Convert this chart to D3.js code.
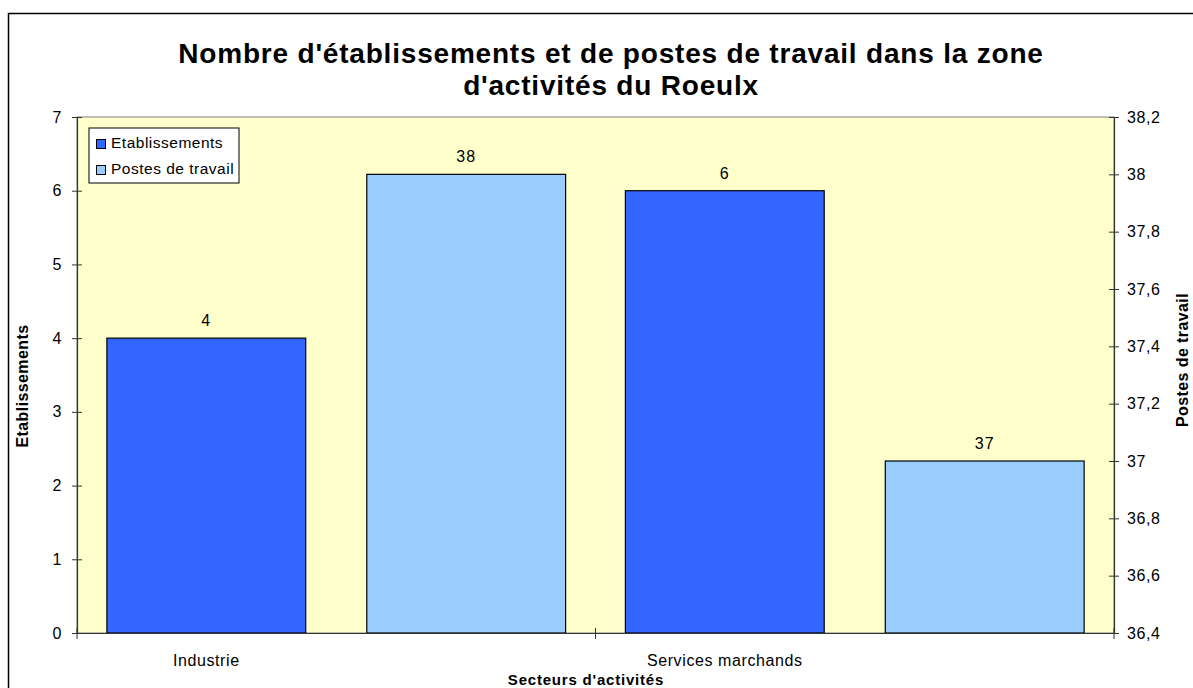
<!DOCTYPE html>
<html>
<head>
<meta charset="utf-8">
<script src="https://cdn.jsdelivr.net/npm/d3@7"></script>
<style>
  body { margin: 0; background: #fff; }
  text { font-family: "Liberation Sans", Arial, sans-serif; fill: #000; }
</style>
</head>
<body>
<div id="chart"></div>
<script>
// data
const categories = ['Industrie', 'Services marchands'];
const etablissements = [4, 6];
const postes = [38, 37];
const leftTicks = [0, 1, 2, 3, 4, 5, 6, 7];
const rightTicks = [36.4, 36.6, 36.8, 37, 37.2, 37.4, 37.6, 37.8, 38, 38.2];

const W = 1193, H = 688;
const plot = { left: 77, right: 1114, top: 117, bottom: 633 };

const svg = d3.select('#chart').append('svg')
  .attr('width', W)
  .attr('height', H);

// outer frame (runs off the right / bottom edge)
svg.append('rect')
  .attr('x', 8.5).attr('y', 13.5)
  .attr('width', W).attr('height', H)
  .attr('fill', '#fff')
  .attr('stroke', '#000')
  .attr('stroke-width', 1.5);

// plot area
svg.append('rect')
  .attr('x', plot.left).attr('y', plot.top)
  .attr('width', plot.right - plot.left)
  .attr('height', plot.bottom - plot.top)
  .attr('fill', '#FFFFCC')
  .attr('stroke', '#808080');

const x = d3.scaleBand()
  .domain(categories)
  .range([plot.left, plot.right]);

const inner = d3.scaleBand()
  .domain(['etab', 'postes'])
  .range([0, x.bandwidth()])
  .paddingInner(0.235)
  .paddingOuter(0.115);

const yL = d3.scaleLinear().domain([0, 7]).range([plot.bottom, plot.top]);
const yR = d3.scaleLinear().domain([36.4, 38.2]).range([plot.bottom, plot.top]);

const fmtR = d => d3.format('.1f')(d).replace('.0', '').replace('.', ',');

// bars
const rows = categories.map((c, i) => ({ cat: c, etab: etablissements[i], postes: postes[i] }));

const g = svg.append('g');
rows.forEach(r => {
  const x0 = x(r.cat);
  g.append('rect')
    .attr('x', x0 + inner('etab'))
    .attr('y', yL(r.etab))
    .attr('width', inner.bandwidth())
    .attr('height', plot.bottom - yL(r.etab))
    .attr('fill', '#3366FF')
    .attr('stroke', '#000')
    .attr('stroke-width', 1.2);
  g.append('text')
    .attr('x', x0 + inner('etab') + inner.bandwidth() / 2)
    .attr('y', yL(r.etab) - 12)
    .attr('text-anchor', 'middle')
    .style('font-size', '16px')
    .style('letter-spacing', '1px')
    .text(r.etab);

  g.append('rect')
    .attr('x', x0 + inner('postes'))
    .attr('y', yR(r.postes))
    .attr('width', inner.bandwidth())
    .attr('height', plot.bottom - yR(r.postes))
    .attr('fill', '#99CCFF')
    .attr('stroke', '#000')
    .attr('stroke-width', 1.2);
  g.append('text')
    .attr('x', x0 + inner('postes') + inner.bandwidth() / 2)
    .attr('y', yR(r.postes) - 12)
    .attr('text-anchor', 'middle')
    .style('font-size', '16px')
    .style('letter-spacing', '1px')
    .text(r.postes);
});

// axes
const axL = svg.append('g')
  .attr('transform', 'translate(' + plot.left + ',0)')
  .call(d3.axisLeft(yL).tickValues(leftTicks).tickFormat(d3.format('d')).tickSize(5).tickPadding(10).tickSizeOuter(0));
axL.selectAll('.tick line').attr('x2', 5).attr('x1', -5).attr('stroke', '#333');

const axR = svg.append('g')
  .attr('transform', 'translate(' + plot.right + ',0)')
  .call(d3.axisRight(yR).tickValues(rightTicks).tickFormat(fmtR).tickSize(5).tickPadding(8).tickSizeOuter(0));
axR.selectAll('.tick line').attr('x1', -5).attr('x2', 5).attr('stroke', '#333');

const axB = svg.append('g')
  .attr('transform', 'translate(0,' + plot.bottom + ')')
  .call(d3.axisBottom(x).tickSize(0).tickPadding(22).tickSizeOuter(0));
axB.selectAll('.tick line').remove();
// labels sit under the first bar of each group
axB.selectAll('.tick').attr('transform', d => 'translate(' + (x(d) + inner('etab') + inner.bandwidth() / 2) + ',0)');
// category separators
[plot.left, x(categories[1]), plot.right].forEach(px => {
  axB.append('line')
    .attr('x1', px).attr('x2', px)
    .attr('y1', -5).attr('y2', 6)
    .attr('stroke', '#333');
});

[axL, axR, axB].forEach(a => {
  a.select('.domain').attr('stroke', '#333').attr('stroke-width', 1.2);
  a.selectAll('text')
    .style('font-family', '"Liberation Sans", Arial, sans-serif')
    .style('font-size', '16px')
    .style('letter-spacing', '0.6px')
    .attr('fill', '#000');
});

// titles
const title = svg.append('text')
  .attr('text-anchor', 'middle')
  .style('font-size', '28px')
  .style('font-weight', 'bold')
  .style('letter-spacing', '0.8px');
title.append('tspan').attr('x', 611).attr('y', 63)
  .text("Nombre d'établissements et de postes de travail dans la zone");
title.append('tspan').attr('x', 611).attr('y', 95)
  .text("d'activités du Roeulx");

svg.append('text')
  .attr('x', 586).attr('y', 685)
  .attr('text-anchor', 'middle')
  .style('font-size', '15px')
  .style('font-weight', 'bold')
  .style('letter-spacing', '0.8px')
  .text("Secteurs d'activités");

svg.append('text')
  .attr('transform', 'translate(28,386) rotate(-90)')
  .attr('text-anchor', 'middle')
  .style('font-size', '16px')
  .style('font-weight', 'bold')
  .style('letter-spacing', '0.4px')
  .text('Etablissements');

svg.append('text')
  .attr('transform', 'translate(1188,360) rotate(-90)')
  .attr('text-anchor', 'middle')
  .style('font-size', '16px')
  .style('font-weight', 'bold')
  .style('letter-spacing', '0.4px')
  .text('Postes de travail');

// legend
const legendItems = [
  { label: 'Etablissements', color: '#3366FF' },
  { label: 'Postes de travail', color: '#99CCFF' }
];
const lg = svg.append('g').attr('transform', 'translate(89,128)');
lg.append('rect')
  .attr('width', 150).attr('height', 55)
  .attr('fill', '#fff')
  .attr('stroke', '#000');
legendItems.forEach((d, i) => {
  lg.append('rect')
    .attr('x', 7.5).attr('y', 11.5 + i * 26)
    .attr('width', 9).attr('height', 9)
    .attr('fill', d.color)
    .attr('stroke', '#000');
  lg.append('text')
    .attr('x', 22).attr('y', 20 + i * 26)
    .style('font-size', '15.5px')
    .style('letter-spacing', '0.5px')
    .text(d.label);
});
</script>
</body>
</html>
